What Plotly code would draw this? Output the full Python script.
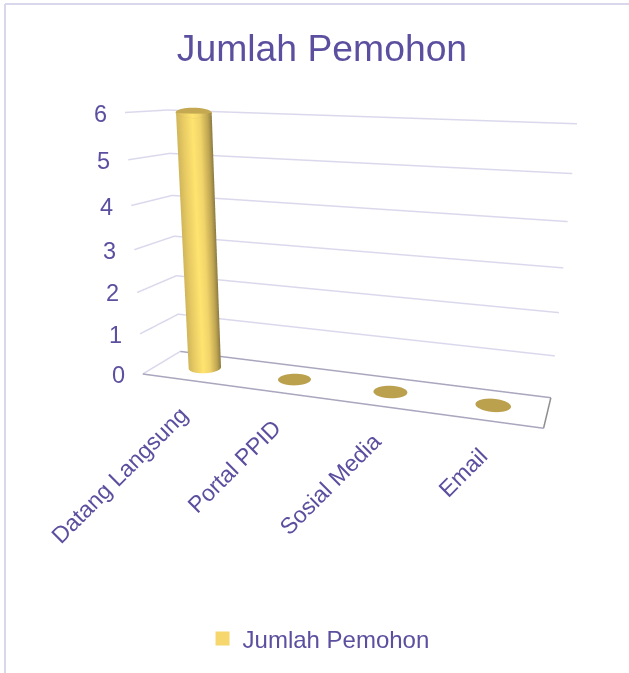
import numpy as np
import plotly.graph_objects as go

categories = ["Datang Langsung", "Portal PPID", "Sosial Media", "Email"]
values = [6, 0, 0, 0]
value_ticks = [0, 1, 2, 3, 4, 5, 6]
series_name = "Jumlah Pemohon"
TEXT = "#5B4F9F"
ASPECT = dict(x=2, y=0.3798, z=1.2793)
EYE = dict(x=1.1861, y=-3.5636, z=0.8116)
CENTER = dict(x=0.3521, y=-0.794, z=-0.1086)
RADIUS = 0.165
CAP_TILT = 0.095
THETA = np.linspace(0, 2 * np.pi, 97)
FONT = "Liberation Sans, Arial, sans-serif"
PAD = 0.004

fig = go.Figure()
nc = len(categories)
ry = RADIUS * (ASPECT["x"] / nc) / ASPECT["y"]
side_scale = [[0, "#D0B65B"], [0.2, "#E9CC64"], [0.45, "#FFE470"], [0.65, "#F2D56A"],
              [0.88, "#BFA552"], [1, "#8A7A42"]]
cap_color = "#BBA04E"
flat = dict(ambient=1, diffuse=0, specular=0, fresnel=0, roughness=1)

# z gridlines on the side and back walls
for t in value_ticks:
    fig.add_trace(go.Scatter3d(x=[0, 0, nc], y=[0, 1, 1], z=[t, t, t], mode="lines",
                               line=dict(color="#DAD8EC", width=3), hoverinfo="skip", showlegend=False))

for i, v in enumerate(values):
    cx = i + 0.5
    cy = 0.5
    n = len(THETA) - 1
    bar_x = (cx / nc - 0.5) * ASPECT["x"]
    dx, dy = EYE["x"] - bar_x, EYE["y"]
    norm = np.hypot(dx, dy)
    if v > 0:
        # shade by the horizontal position of the surface as seen from the camera
        u = np.cos(THETA) * (-dy / norm) + np.sin(THETA) * (dx / norm)
        X = np.outer(np.ones(2), cx + RADIUS * np.cos(THETA))
        Y = np.outer(np.ones(2), cy + ry * np.sin(THETA))
        Z = np.outer([0, v], np.ones(len(THETA)))
        fig.add_trace(go.Surface(x=X, y=Y, z=Z, surfacecolor=np.outer(np.ones(2), u),
                                 colorscale=side_scale, cmin=-1, cmax=1, showscale=False,
                                 lighting=flat, hoverinfo="skip", showlegend=False))
    t = THETA[:-1]
    toward_camera = np.cos(t) * dx / norm + np.sin(t) * dy / norm
    grow = 1.02 if v > 0 else 1
    cap_z = v - CAP_TILT * toward_camera if v > 0 else np.full(n, float(v))
    fig.add_trace(go.Mesh3d(x=np.r_[cx, cx + grow * RADIUS * np.cos(t)],
                            y=np.r_[cy, cy + grow * ry * np.sin(t)],
                            z=np.r_[v, cap_z],
                            i=np.zeros(n, int), j=np.arange(1, n + 1), k=np.r_[np.arange(2, n + 1), 1],
                            color=cap_color if v == 0 else "#C4A952", flatshading=True, lighting=flat,
                            hoverinfo="skip", showlegend=False))

edges = [([0, nc], [0, 0], "#A9A6BE"), ([0, nc], [1, 1], "#A9A6BE"), ([nc, nc], [0, 1], "#8E8E8E")]
for ex, ey, col in edges:
    fig.add_trace(go.Scatter3d(x=ex, y=ey, z=[0, 0], mode="lines", line=dict(color=col, width=3),
                               hoverinfo="skip", showlegend=False))

fig.add_trace(go.Scatter3d(x=[None], y=[None], z=[None], mode="markers", name=series_name,
                           marker=dict(symbol="square", size=14, color="#F5D76E")))

annotations = []
for t in value_ticks:
    annotations.append(dict(x=0, y=0, z=t, text=str(t), showarrow=False, xanchor="right", yanchor="middle",
                            xshift=-16, yshift=-1, font=dict(size=23.5, color=TEXT, family=FONT)))
for i, c in enumerate(categories):
    annotations.append(dict(x=i + 0.5, y=0, z=0, text=c, showarrow=False, textangle=-45, xanchor="right",
                            yanchor="top", xshift=9, yshift=-19, font=dict(size=23, color=TEXT, family=FONT)))

hidden = dict(visible=True, showgrid=False, zeroline=False, showline=False, showticklabels=False,
              ticks="", title="", showspikes=False, showbackground=False)
zmax = max(value_ticks)
zlo, zhi = -PAD * zmax, zmax + 2 * CAP_TILT
# the z range leaves room for the cap; shift the camera so the value scale stays where it was
zshift = (zmax / 2 - (zlo + zhi) / 2) / zmax * ASPECT["z"]
fig.update_layout(
    width=629, height=673, margin=dict(l=0, r=0, t=0, b=0),
    paper_bgcolor="white", font=dict(family=FONT, color=TEXT),
    title=dict(text=series_name, x=322 / 629, y=1 - 48 / 673, xanchor="center", yanchor="middle",
               font=dict(size=37.3, color=TEXT, family=FONT)),
    legend=dict(x=0.322, y=1 - 639 / 673, xanchor="left", yanchor="middle", orientation="h", itemwidth=30,
                font=dict(size=24, color=TEXT, family=FONT), bgcolor="rgba(0,0,0,0)"),
    showlegend=True,
    scene=dict(
        domain=dict(x=[100 / 629, 1], y=[0, 1]),
        aspectmode="manual",
        aspectratio=dict(x=ASPECT["x"] * (1 + 2 * PAD), y=ASPECT["y"] * (1 + 2 * PAD),
                         z=ASPECT["z"] * (zhi - zlo) / zmax),
        dragmode="orbit",
        camera=dict(eye=dict(EYE, z=EYE["z"] + zshift), center=dict(CENTER, z=CENTER["z"] + zshift),
                    up=dict(x=float(np.sin(-0.0199)), y=0, z=float(np.cos(-0.0199))),
                    projection=dict(type="perspective")),
        xaxis=dict(hidden, range=[-PAD * nc, nc * (1 + PAD)]),
        yaxis=dict(hidden, range=[-PAD, 1 + PAD]),
        zaxis=dict(hidden, range=[zlo, zhi]),
        annotations=annotations,
    ),
    shapes=[dict(type="line", xref="paper", yref="paper", x0=5 / 629, x1=5 / 629, y0=0, y1=1 - 4 / 673,
                 line=dict(color="#D9D7EC", width=2)),
            dict(type="line", xref="paper", yref="paper", x0=5 / 629, x1=1, y0=1 - 4 / 673, y1=1 - 4 / 673,
                 line=dict(color="#D9D7EC", width=2))],
)
fig.write_html("out.html", config=dict(displayModeBar=False),
               post_script="document.body.style.margin='0';document.body.style.overflow='hidden';")
